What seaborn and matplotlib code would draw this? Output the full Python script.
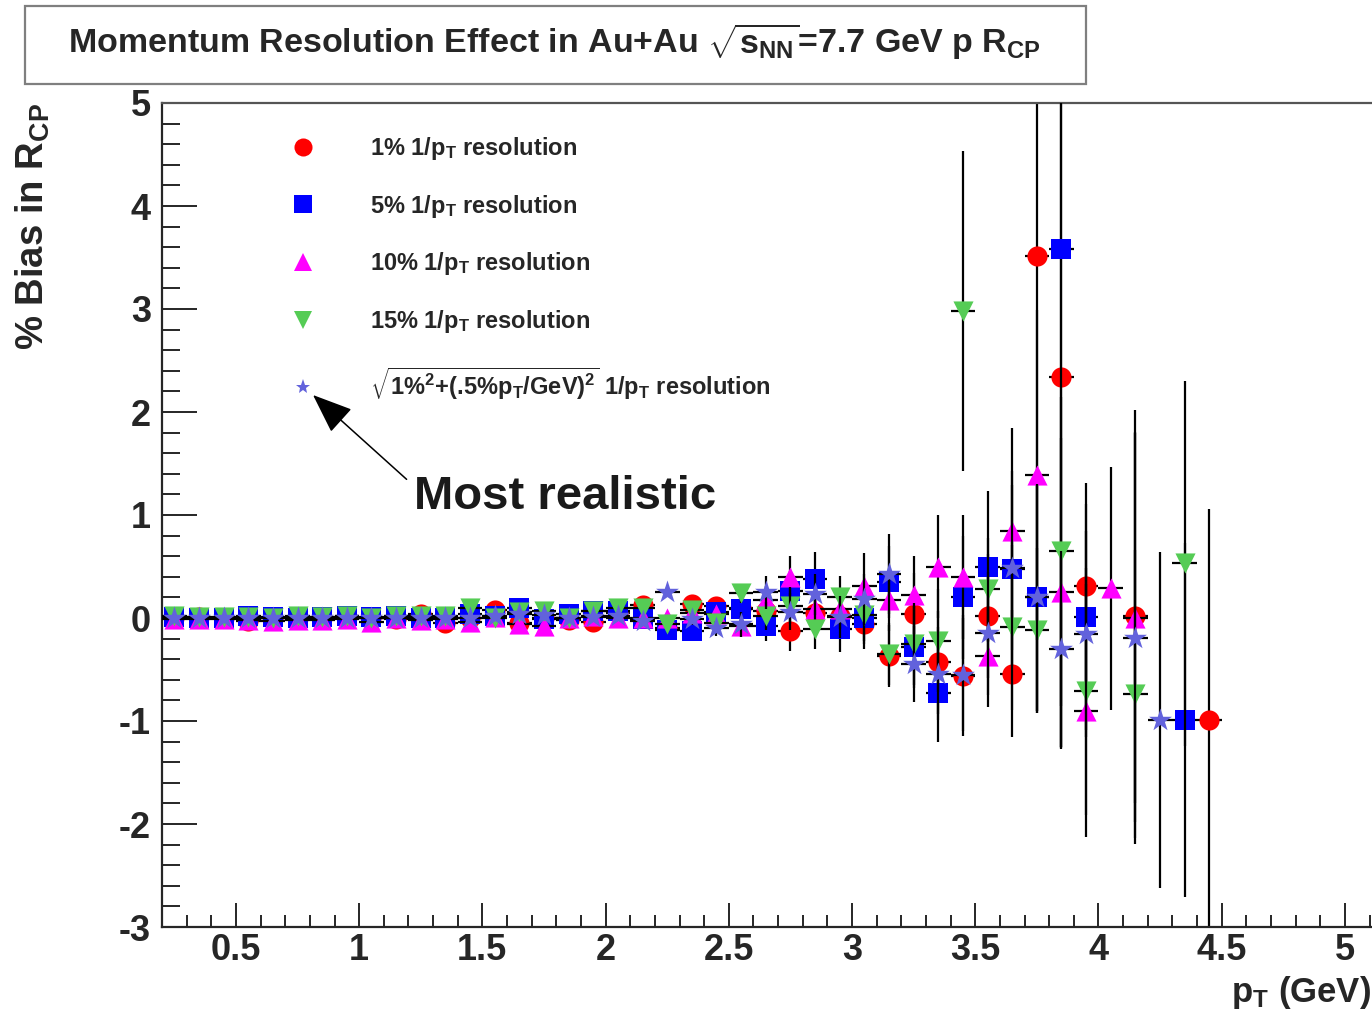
import numpy as np
import pandas as pd
import matplotlib
matplotlib.use("Agg")
import matplotlib.pyplot as plt
import seaborn as sns
from matplotlib.lines import Line2D
from matplotlib.patches import Rectangle
from matplotlib.ticker import MultipleLocator, FuncFormatter

nan = np.nan

pt = [0.25, 0.35, 0.45, 0.55, 0.65, 0.75, 0.85, 0.95, 1.05, 1.15,
      1.25, 1.35, 1.45, 1.55, 1.65, 1.75, 1.85, 1.95, 2.05, 2.15,
      2.25, 2.35, 2.45, 2.55, 2.65, 2.75, 2.85, 2.95, 3.05, 3.15,
      3.25, 3.35, 3.45, 3.55, 3.65, 3.75, 3.85, 3.95, 4.05, 4.15,
      4.25, 4.35, 4.45]

res1 = [0.0, 0.01, 0.0, -0.03, 0.0, 0.0, 0.0, 0.01, 0.0, -0.01,
        0.04, -0.05, 0.0, 0.08, -0.05, 0.0, -0.02, -0.04, 0.05, 0.13,
        -0.1, 0.14, 0.12, 0.1, 0.07, -0.13, 0.05, 0.02, -0.06, -0.37,
        0.04, -0.43, -0.56, 0.02, -0.54, 3.51, 2.34, 0.31, nan, 0.02,
        nan, nan, -0.99]
res1_err = [0.01, 0.01, 0.01, 0.01, 0.01, 0.01, 0.01, 0.01, 0.01, 0.01,
            0.02, 0.02, 0.02, 0.02, 0.02, 0.02, 0.03, 0.03, 0.03, 0.05,
            0.05, 0.06, 0.07, 0.1, 0.14, 0.19, 0.2, 0.2, 0.24, 0.3,
            0.4, 0.5, 0.59, 0.6, 0.62, 4.43, 3.6, 1.0, nan, 2.0,
            nan, nan, 2.05]

res5 = [0.01, 0.0, 0.0, 0.02, 0.01, 0.0, 0.01, 0.02, 0.01, 0.02,
        0.0, 0.0, 0.04, 0.02, 0.1, -0.01, 0.04, 0.07, 0.07, -0.01,
        -0.12, -0.13, 0.06, 0.09, -0.08, 0.26, 0.38, -0.11, 0.0, 0.35,
        -0.28, -0.73, 0.2, 0.5, 0.48, 0.2, 3.58, 0.01, nan, nan,
        nan, -0.99, nan]
res5_err = [0.01, 0.01, 0.01, 0.01, 0.01, 0.01, 0.01, 0.01, 0.01, 0.01,
            0.02, 0.02, 0.02, 0.02, 0.02, 0.02, 0.03, 0.03, 0.03, 0.05,
            0.05, 0.06, 0.07, 0.1, 0.14, 0.2, 0.26, 0.22, 0.25, 0.35,
            0.4, 0.47, 0.6, 0.73, 0.95, 1.1, 4.85, 1.1, nan, nan,
            nan, 1.72, nan]

res10 = [-0.01, -0.01, -0.01, -0.02, -0.03, -0.02, -0.02, -0.01, -0.04, 0.0,
         -0.02, -0.01, -0.04, 0.01, -0.06, -0.08, 0.0, 0.02, 0.0, 0.0,
         0.0, 0.05, 0.04, -0.08, 0.17, 0.4, 0.09, 0.09, 0.31, 0.17,
         0.22, 0.5, 0.4, -0.37, 0.84, 1.39, 0.25, -0.9, 0.29, 0.0,
         nan, nan, nan]
res10_err = [0.01, 0.01, 0.01, 0.01, 0.01, 0.01, 0.01, 0.01, 0.01, 0.01,
             0.02, 0.02, 0.02, 0.02, 0.02, 0.02, 0.03, 0.03, 0.03, 0.05,
             0.05, 0.06, 0.07, 0.1, 0.14, 0.2, 0.2, 0.2, 0.32, 0.3,
             0.38, 0.5, 0.6, 0.49, 1.0, 1.6, 1.5, 1.23, 1.18, 1.8,
             nan, nan, nan]

res15 = [0.02, 0.01, 0.01, 0.01, 0.0, 0.02, 0.01, 0.02, 0.0, 0.02,
         0.02, 0.02, 0.1, 0.0, 0.06, 0.07, 0.0, 0.07, 0.1, 0.1,
         -0.06, 0.08, -0.05, 0.24, 0.02, 0.12, -0.11, 0.2, 0.03, -0.35,
         -0.25, -0.22, 2.98, 0.28, -0.09, -0.12, 0.65, -0.71, nan, -0.74,
         nan, 0.53, nan]
res15_err = [0.01, 0.01, 0.01, 0.01, 0.01, 0.01, 0.01, 0.01, 0.01, 0.01,
             0.02, 0.02, 0.02, 0.02, 0.02, 0.02, 0.03, 0.03, 0.03, 0.05,
             0.05, 0.06, 0.07, 0.09, 0.14, 0.18, 0.19, 0.21, 0.25, 0.3,
             0.4, 0.5, 1.55, 0.5, 0.8, 0.8, 1.5, 1.2, nan, 1.4,
             nan, 1.77, nan]

resreal = [0.0, 0.0, 0.0, 0.0, 0.0, 0.0, 0.0, 0.0, 0.0, 0.0,
           0.0, 0.0, 0.0, 0.02, 0.04, 0.03, 0.0, 0.01, 0.02, -0.03,
           0.25, -0.01, -0.1, -0.06, 0.25, 0.06, 0.23, 0.01, 0.18, 0.43,
           -0.45, -0.54, -0.55, -0.15, 0.49, 0.2, -0.3, -0.16, nan, -0.19,
           -0.99, nan, nan]
resreal_err = [0.01, 0.01, 0.01, 0.01, 0.01, 0.01, 0.01, 0.01, 0.01, 0.01,
               0.02, 0.02, 0.02, 0.02, 0.02, 0.02, 0.03, 0.03, 0.03, 0.05,
               0.05, 0.06, 0.07, 0.12, 0.16, 0.18, 0.2, 0.2, 0.25, 0.39,
               0.37, 0.45, 0.55, 0.6, 0.8, 1.1, 0.95, 1.0, nan, 2.0,
               1.63, nan, nan]

series_names = ["1%", "5%", "10%", "15%", "real"]
series_vals = [res1, res5, res10, res15, resreal]
series_errs = [res1_err, res5_err, res10_err, res15_err, resreal_err]
series_labels = [
    r"1% 1/p$_{T}$ resolution",
    r"5% 1/p$_{T}$ resolution",
    r"10% 1/p$_{T}$ resolution",
    r"15% 1/p$_{T}$ resolution",
    r"$\sqrt{1\%^{2}{+}(.\!5\%p_{T}/GeV)^{2}}$ 1/p$_{T}$ resolution",
]
colors = ["#ff0000", "#0000ff", "#ff00ff", "#55cc55", "#6262dc"]
markers = ["o", "s", "^", "v", "*"]
sizes = [210, 190, 210, 210, 300]

frames = []
for name, v, e in zip(series_names, series_vals, series_errs):
    frames.append(pd.DataFrame({"pt": pt, "bias": v, "err": e, "series": name}))
df = pd.concat(frames, ignore_index=True).dropna()

sns.set_theme(style="ticks")
plt.rcParams["font.family"] = ["Liberation Sans", "DejaVu Sans"]
plt.rcParams["font.weight"] = "bold"
plt.rcParams["mathtext.fontset"] = "custom"
plt.rcParams["mathtext.rm"] = "Liberation Sans:bold"
plt.rcParams["mathtext.it"] = "Liberation Sans:bold"
plt.rcParams["mathtext.bf"] = "Liberation Sans:bold"
plt.rcParams["mathtext.sf"] = "Liberation Sans:bold"
plt.rcParams["axes.unicode_minus"] = False

W, H = 1372, 1013
fig = plt.figure(figsize=(W / 100, H / 100), dpi=100)
fig.patch.set_facecolor("white")
ax = fig.add_axes([162 / W, 1 - 927 / H, 1 - 162 / W, (927 - 103) / H])

for k, (name, col, mk, sz) in enumerate(zip(series_names, colors, markers, sizes)):
    d = df[df["series"] == name]
    ax.errorbar(d["pt"], d["bias"], yerr=d["err"], xerr=0.05, fmt="none",
                ecolor="black", elinewidth=1.6, capsize=0, zorder=2 + 2 * k)
    sns.scatterplot(data=d, x="pt", y="bias", ax=ax, marker=mk, color=col,
                    s=sz, linewidth=0, legend=False, zorder=3 + 2 * k)

ax.set_xlim(0.2, 5.11)
ax.set_ylim(-3, 5)
ax.set_xlabel("")
ax.set_ylabel("")
ax.xaxis.set_major_locator(MultipleLocator(0.5))
ax.xaxis.set_minor_locator(MultipleLocator(0.1))
ax.yaxis.set_major_locator(MultipleLocator(1))
ax.yaxis.set_minor_locator(MultipleLocator(0.2))
ax.xaxis.set_major_formatter(FuncFormatter(lambda v, p: f"{v:g}"))
ax.yaxis.set_major_formatter(FuncFormatter(lambda v, p: f"{v:g}"))
ax.tick_params(axis="x", which="major", direction="in", length=17, width=1.4,
               labelsize=26, pad=4)
ax.tick_params(axis="x", which="minor", direction="in", length=9, width=1.4)
ax.tick_params(axis="y", which="major", direction="in", length=25, width=1.4,
               labelsize=26, pad=8)
ax.tick_params(axis="y", which="minor", direction="in", length=13, width=1.4)
for lab in ax.get_xticklabels() + ax.get_yticklabels():
    lab.set_fontweight("bold")
ax.spines["left"].set_linewidth(1.6)
ax.spines["bottom"].set_linewidth(1.6)
ax.spines["top"].set_linewidth(1.6)
ax.spines["top"].set_color("#555555")
ax.spines["right"].set_visible(False)

handles = []
for col, mk in zip(colors, markers):
    ms = 11 if mk == "*" else 13
    handles.append(Line2D([], [], ls="", marker=mk, color=col, markersize=ms,
                          markeredgewidth=0))
ax.legend(handles, series_labels, loc="upper left",
          bbox_to_anchor=(291 / W, 1 - 135 / H), bbox_transform=fig.transFigure,
          frameon=False, fontsize=17, handlelength=1.0, handletextpad=2.35,
          labelspacing=1.3, borderpad=0, borderaxespad=0)

ax.annotate("Most realistic", xy=(313, H - 395), xycoords="figure pixels",
            xytext=(414, H - 497), textcoords="figure pixels",
            ha="left", va="center", fontsize=34, fontweight="bold", color="#1a1a1a",
            arrowprops=dict(arrowstyle="-|>,head_length=1.4,head_width=0.55",
                            color="black", lw=1.1, shrinkA=4, shrinkB=0,
                            relpos=(0, 0.75), mutation_scale=18))

fig.add_artist(Rectangle((25 / W, 1 - 84 / H), (1086 - 25) / W, 78 / H,
                         transform=fig.transFigure, fill=False,
                         edgecolor="#7f7f7f", linewidth=1.6))
fig.text(554 / W, 1 - 42 / H,
         r"Momentum Resolution Effect in Au+Au $\sqrt{s_{NN}}$=7.7 GeV p R$_{CP}$",
         ha="center", va="center", fontsize=24.5, fontweight="bold")
fig.text(33 / W, 1 - 103 / H, r"% Bias in R$_{CP}$", rotation=90,
         ha="center", va="top", fontsize=27.5, fontweight="bold")
fig.text(1371 / W, 1 - 992 / H, r"p$_{T}$ (GeV)", ha="right", va="center",
         fontsize=25, fontweight="bold")

fig.savefig("out.png", dpi=100)
